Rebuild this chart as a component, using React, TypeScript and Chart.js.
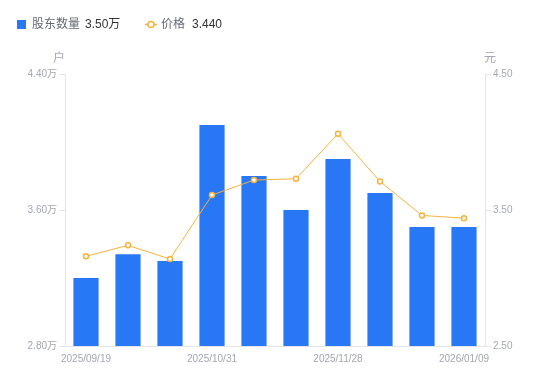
import React, { useEffect, useRef } from "react";
import { Chart, registerables } from "chart.js";

Chart.register(...registerables);

const categories = [
  "2025/09/19", "2025/09/30", "2025/10/20", "2025/10/31", "2025/11/10",
  "2025/11/20", "2025/11/28", "2025/12/10", "2025/12/31", "2026/01/09",
];
const holders = [3.20, 3.34, 3.30, 4.10, 3.80, 3.60, 3.90, 3.70, 3.50, 3.50];
const prices = [3.16, 3.24, 3.14, 3.61, 3.72, 3.73, 4.06, 3.71, 3.46, 3.44];
const leftTicks = [2.8, 3.6, 4.4];
const rightTicks = [2.5, 3.5, 4.5];
const shownLabelIdx = [0, 3, 6, 9];

const BLUE = "#2878f5";
const ORANGE = "#f8b23c";
const TICK = "#a3a6b2";
const AXIS = "#e5e6ea";
const FONT = "'Liberation Sans', 'Noto Sans CJK SC', sans-serif";

const overlayPlugin = {
  id: "overlay",
  afterDraw(chart: any) {
    const ctx = chart.ctx;
    const area = chart.chartArea;
    ctx.save();
    // axis titles
    ctx.fillStyle = TICK;
    ctx.font = `12px ${FONT}`;
    ctx.textAlign = "center";
    ctx.textBaseline = "middle";
    ctx.fillText("户", area.left - 6, 58.5);
    ctx.fillText("元", area.right + 5, 58.5);
    // legend
    const y = 24.5;
    ctx.fillStyle = BLUE;
    ctx.fillRect(17, y - 4.5, 9, 9);
    ctx.textAlign = "left";
    ctx.font = `12px ${FONT}`;
    ctx.fillStyle = "#666a75";
    ctx.fillText("股东数量", 32, y);
    ctx.fillStyle = "#333333";
    ctx.fillText(holders[holders.length - 1].toFixed(2) + "万", 85, y);
    ctx.strokeStyle = ORANGE;
    ctx.lineWidth = 1.5;
    ctx.beginPath();
    ctx.moveTo(145, y);
    ctx.lineTo(157, y);
    ctx.stroke();
    ctx.beginPath();
    ctx.arc(151, y, 3, 0, Math.PI * 2);
    ctx.fillStyle = "#ffffff";
    ctx.fill();
    ctx.stroke();
    ctx.fillStyle = "#666a75";
    ctx.fillText("价格", 161, y);
    ctx.fillStyle = "#333333";
    ctx.fillText(prices[prices.length - 1].toFixed(3), 192, y);
    ctx.restore();
  },
};

export default function App() {
  const ref = useRef<HTMLCanvasElement>(null);
  useEffect(() => {
    if (!ref.current) return;
    const chart = new Chart(ref.current, {
      type: "bar",
      data: {
        labels: categories,
        datasets: [
          {
            type: "line",
            label: "价格",
            data: prices,
            yAxisID: "y1",
            borderColor: ORANGE,
            borderWidth: 1,
            pointRadius: 2.5,
            pointBorderWidth: 1.5,
            pointBackgroundColor: "#ffffff",
            pointBorderColor: ORANGE,
            tension: 0,
            order: 0,
          } as any,
          {
            type: "bar",
            label: "股东数量",
            data: holders,
            yAxisID: "y",
            backgroundColor: BLUE,
            barPercentage: 0.6,
            categoryPercentage: 1,
            order: 1,
          },
        ],
      },
      options: {
        responsive: false,
        animation: false,
        layout: { padding: { top: 74, left: 0, right: 0, bottom: 0 } },
        plugins: { legend: { display: false }, tooltip: { enabled: false } },
        scales: {
          x: {
            grid: { display: false, drawTicks: false },
            border: { display: true, color: AXIS },
            afterFit: (s: any) => { s.height = 35; },
            ticks: {
              autoSkip: false,
              maxRotation: 0,
              padding: 7,
              color: TICK,
              font: { size: 10, family: FONT },
              callback: (_v: any, i: number) =>
                shownLabelIdx.includes(i) ? categories[i] : "",
            },
          },
          y: {
            position: "left",
            min: leftTicks[0],
            max: leftTicks[leftTicks.length - 1],
            afterFit: (s: any) => { s.width = 65; },
            afterBuildTicks: (s: any) => { s.ticks = leftTicks.map((v) => ({ value: v })); },
            grid: { drawOnChartArea: false, tickLength: 6, color: AXIS },
            border: { display: true, color: AXIS },
            ticks: {
              padding: 2,
              color: TICK,
              font: { size: 10, family: FONT },
              callback: (v: any) => Number(v).toFixed(2) + "万",
            },
          },
          y1: {
            position: "right",
            min: rightTicks[0],
            max: rightTicks[rightTicks.length - 1],
            afterFit: (s: any) => { s.width = 65; },
            afterBuildTicks: (s: any) => { s.ticks = rightTicks.map((v) => ({ value: v })); },
            grid: { drawOnChartArea: false, tickLength: 6, color: AXIS },
            border: { display: true, color: AXIS },
            ticks: {
              padding: 2,
              color: TICK,
              font: { size: 10, family: FONT },
              callback: (v: any) => Number(v).toFixed(2),
            },
          },
        },
      },
      plugins: [overlayPlugin],
    });
    return () => chart.destroy();
  }, []);
  return (
    <div style={{ position: "fixed", left: 0, top: 0, width: 550, height: 381, background: "#fff" }}>
      <canvas ref={ref} width={550} height={381} />
    </div>
  );
}
